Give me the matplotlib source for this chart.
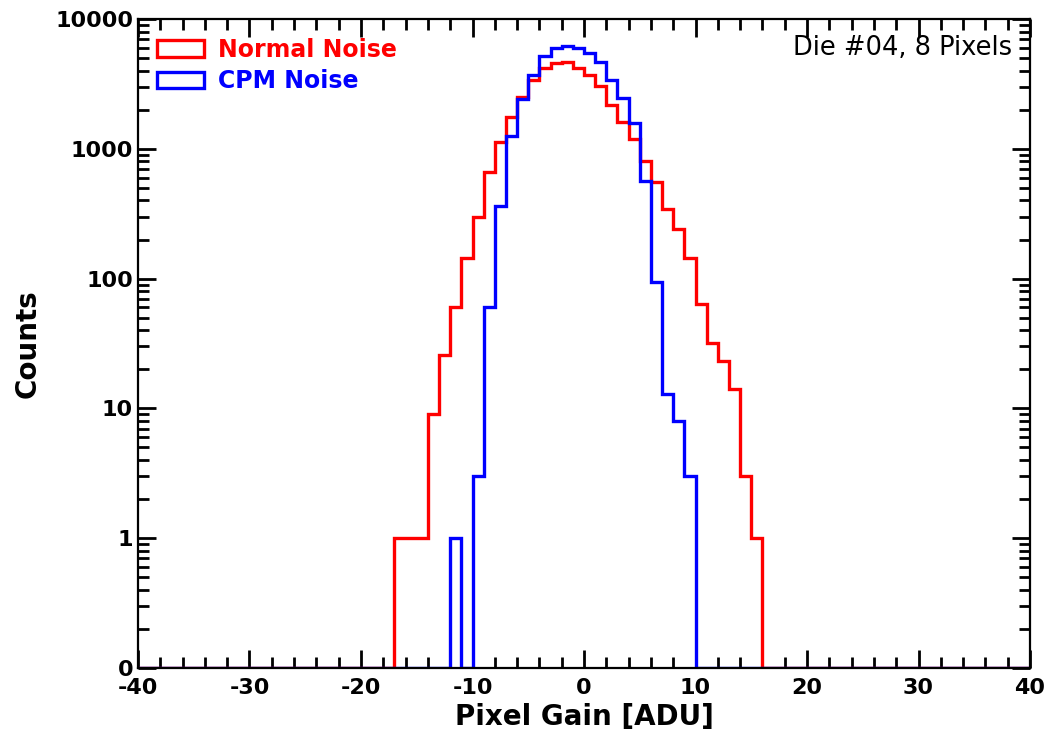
import numpy as np
import matplotlib
matplotlib.use("Agg")
import matplotlib.pyplot as plt
from matplotlib.ticker import FixedLocator, FixedFormatter, LogLocator, MultipleLocator

plt.rcParams["axes.unicode_minus"] = False

# bin edges of the histograms (1 ADU wide)
edges = np.arange(-40, 41, 1)
centers = edges[:-1] + 0.5

# counts, bins starting at the given left edge
normal_start = -17
normal_counts = [1, 1, 1, 9, 26, 60, 143, 297, 667, 1135, 1766, 2520, 3400,
                 4170, 4560, 4690, 4220, 3710, 3050, 2180, 1620, 1190, 810,
                 558, 344, 240, 145, 64, 32, 23, 14, 3, 1]
cpm_start = -12
cpm_counts = [1, 0, 3, 60, 363, 1260, 2400, 3700, 5190, 5940, 6190, 5940,
              5500, 4690, 3390, 2450, 1570, 565, 94, 13, 8, 3]

y_ticks = [0.1, 1, 10, 100, 1000, 10000]
y_labels = ["0", "1", "10", "100", "1000", "10000"]


def full_hist(start, counts):
    h = np.zeros(len(centers))
    i0 = int(start - edges[0])
    h[i0:i0 + len(counts)] = counts
    # zero bins sit on the "0" line at the bottom of the log axis
    return np.maximum(h, 0.1)


fig = plt.figure(figsize=(10.5, 7.33), dpi=100)
ax = fig.add_axes([0.1314, 0.0887, 0.8496, 0.8853])

ax.hist(centers, bins=edges, weights=full_hist(normal_start, normal_counts),
        histtype="step", color="red", lw=2.4, label="Normal Noise")
ax.hist(centers, bins=edges, weights=full_hist(cpm_start, cpm_counts),
        histtype="step", color="blue", lw=2.4, label="CPM Noise")

ax.set_yscale("log")
ax.set_xlim(-40, 40)
ax.set_ylim(0.1, 10000)

ax.yaxis.set_major_locator(FixedLocator(y_ticks))
ax.yaxis.set_major_formatter(FixedFormatter(y_labels))
ax.yaxis.set_minor_locator(LogLocator(base=10, subs=np.arange(2, 10)))
ax.yaxis.set_minor_formatter(FixedFormatter([]))
ax.xaxis.set_major_locator(MultipleLocator(10))
ax.xaxis.set_minor_locator(MultipleLocator(2))

ax.tick_params(which="both", direction="in", top=True, right=True, width=2)
ax.tick_params(which="major", length=13, labelsize=16)
ax.tick_params(axis="x", which="major", pad=7)
ax.tick_params(which="minor", length=8)
for lab in ax.get_xticklabels() + ax.get_yticklabels():
    lab.set_fontweight("bold")
for sp in ax.spines.values():
    sp.set_linewidth(1.6)

ax.set_xlabel("Pixel Gain [ADU]", fontsize=20, fontweight="bold", labelpad=4)
ax.set_ylabel("Counts", fontsize=20, fontweight="bold", labelpad=10)

leg = ax.legend(loc="upper left", frameon=False,
                prop={"weight": "bold", "size": 17}, borderaxespad=0.4,
                handletextpad=0.6, labelspacing=0.3)
for txt, c in zip(leg.get_texts(), ["red", "blue"]):
    txt.set_color(c)

ax.text(0.98, 0.975, "Die #04, 8 Pixels", transform=ax.transAxes,
        ha="right", va="top", fontsize=18.5)

fig.savefig("out.png", dpi=100)
